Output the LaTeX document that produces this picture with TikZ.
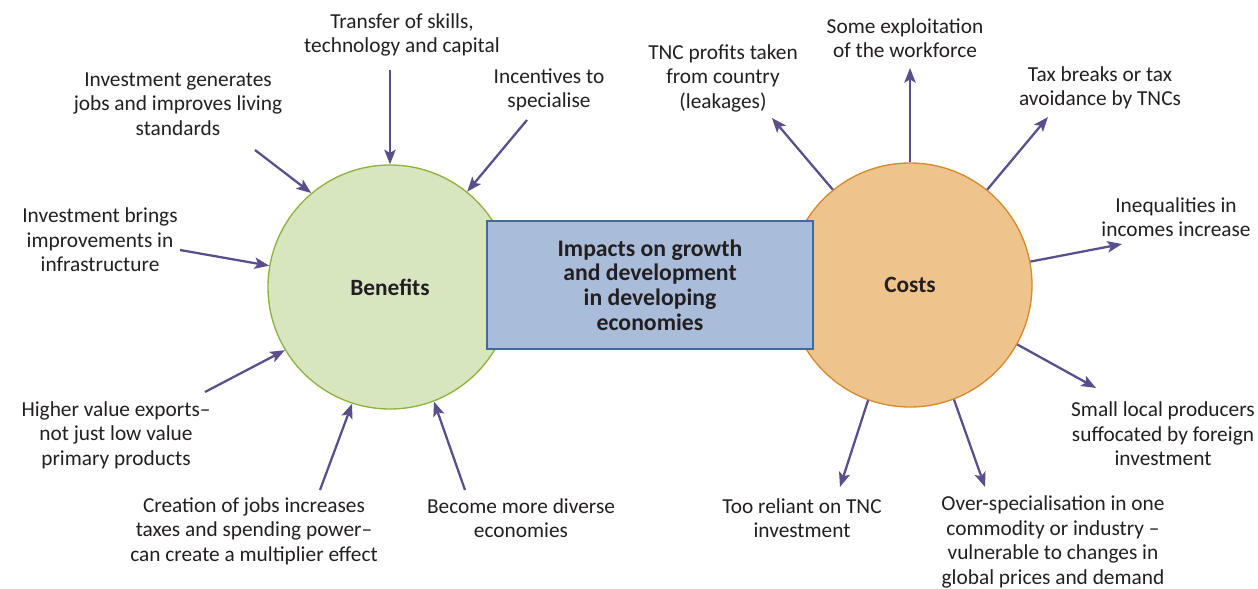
\documentclass[tikz,border=0pt]{standalone}
\usepackage{fontspec}
\setmainfont{Carlito}
\usetikzlibrary{arrows.meta}
\definecolor{arrowcol}{HTML}{5A4E8C}
\definecolor{benfill}{HTML}{D7E6BF}
\definecolor{bendraw}{HTML}{8DB33F}
\definecolor{costfill}{HTML}{EEC48C}
\definecolor{costdraw}{HTML}{D58A2E}
\definecolor{boxfill}{HTML}{A9BCD9}
\definecolor{boxdraw}{HTML}{41699A}
\definecolor{ink}{HTML}{231F20}
\tikzset{
  label/.style={align=center, inner sep=0pt, text=ink,
    font=\fontsize{16}{18.4}\selectfont},
  hub/.style={circle, minimum size=183pt, inner sep=0pt, line width=1pt,
    font=\fontsize{17.5}{18.4}\selectfont\bfseries, text=ink},
  arr/.style={draw=arrowcol, line width=1.7pt,
    -{Stealth[length=11pt,width=8.5pt,inset=2.5pt]}},
}
\begin{document}
\begin{tikzpicture}[x=0.75pt,y=-0.75pt]
\useasboundingbox (0,0) rectangle (1258,589);

% the two hubs and the central box
\node[hub, fill=benfill, draw=bendraw] (ben) at (390,287) {Benefits};
\node[hub, fill=costfill, draw=costdraw] (cost) at (910,285) {Costs};
\node[draw=boxdraw, fill=boxfill, line width=1pt, minimum width=244.5pt,
  minimum height=96pt, inner sep=0pt, align=center, text=ink,
  font=\fontsize{17.8}{18.4}\selectfont\bfseries] (imp) at (650,285)
  {Impacts on growth\\and development\\in developing\\economies};

% benefit labels
\node[label] (b1) at (178,104) {Investment generates\\jobs and improves living\\standards};
\node[label] (b2) at (402,35) {Transfer of skills,\\technology and capital};
\node[label] (b3) at (549,90) {Incentives to\\specialise};
\node[label] (b4) at (100,240) {Investment brings\\improvements in\\infrastructure};
\node[label] (b5) at (116,435) {Higher value exports–\\not just low value\\primary products};
\node[label] (b6) at (254,531) {Creation of jobs increases\\taxes and spending power–\\can create a multiplier effect};
\node[label] (b7) at (521,518) {Become more diverse\\economies};

% cost labels
\node[label] (c1) at (723,78) {TNC profits taken\\from country\\(leakages)};
\node[label] (c2) at (905,38) {Some exploitation\\of the workforce};
\node[label] (c3) at (1100,88) {Tax breaks or tax\\avoidance by TNCs};
\node[label] (c4) at (1176,217) {Inequalities in\\incomes increase};
\node[label] (c5) at (1163,434) {Small local producers\\suffocated by foreign\\investment};
\node[label] (c6) at (802,518) {Too reliant on TNC\\investment};
\node[label] (c7) at (1053,542) {Over-specialisation in one\\commodity or industry –\\vulnerable to changes in\\global prices and demand};

% arrow ends away from the hubs
\coordinate (tb1) at (255,150);
\coordinate (tb2) at (390,70);
\coordinate (tb3) at (527,120);
\coordinate (tb4) at (180,250);
\coordinate (tb5) at (205,392);
\coordinate (tb6) at (320,490);
\coordinate (tb7) at (465,490);
\coordinate (hc1) at (772,118);
\coordinate (hc2) at (910,68);
\coordinate (hc3) at (1048,117);
\coordinate (hc4) at (1122,244);
\coordinate (hc5) at (1096,388);
\coordinate (hc6) at (840,487);
\coordinate (hc7) at (985,487);

% benefits flow in
\draw[arr] (tb1) -- (ben.130);
\draw[arr] (tb2) -- (ben.90);
\draw[arr] (tb3) -- (ben.51);
\draw[arr] (tb4) -- (ben.170);
\draw[arr] (tb5) -- (ben.211);
\draw[arr] (tb6) -- (ben.252);
\draw[arr] (tb7) -- (ben.291);

% costs flow out
\draw[arr] (cost.129) -- (hc1);
\draw[arr] (cost.90) -- (hc2);
\draw[arr] (cost.51) -- (hc3);
\draw[arr] (cost.11) -- (hc4);
\draw[arr] (cost.331) -- (hc5);
\draw[arr] (cost.250) -- (hc6);
\draw[arr] (cost.291) -- (hc7);
\end{tikzpicture}
\end{document}
